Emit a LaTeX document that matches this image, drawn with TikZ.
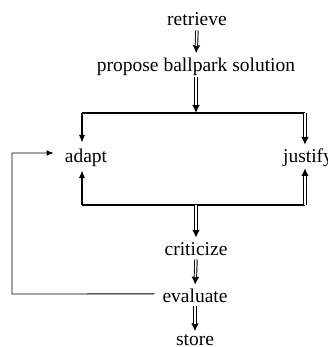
\documentclass[tikz,border=0pt]{standalone}
\usepackage{fontspec}
\setmainfont{Liberation Serif}
\usetikzlibrary{arrows.meta,calc}
\begin{document}
\begin{tikzpicture}[x=1bp,y=1bp,
  lbl/.style={anchor=base,inner sep=0pt,text height=13.5bp,text depth=4.3bp,font=\fontsize{19.5bp}{23bp}\selectfont},
  dbl/.style={draw,line width=3.4bp,-{Latex[length=8bp,width=8bp]},shorten >=#1,
    postaction={draw=white,line width=1.5bp,-{},shorten >=#1+7.5bp}},
  dbl/.default=0bp,
  sgl/.style={draw,line width=1.8bp,-{Latex[length=8bp,width=6.5bp]}},
  bar/.style={draw,line width=1.3bp},
  thinline/.style={draw,line width=0.9bp,-{Latex[length=7bp,width=5.5bp]}}]
\useasboundingbox (0,0) rectangle (328,347);
\node[lbl] (retrieve) at (197,322) {retrieve};
\node[lbl] (propose) at (196,276) {propose ballpark solution};
\node[lbl] (adapt) at (86,185) {adapt};
\node[lbl] (justify) at (308,185) {justify};
\node[lbl] (criticize) at (196,92) {criticize};
\node[lbl] (evaluate) at (195,45) {evaluate};
\node[lbl] (store) at (195,2) {store};
\coordinate (tl) at (82,234);
\coordinate (tr) at (305,234);
\coordinate (bl) at (82,142);
\coordinate (br) at (305,142);
\coordinate (fb) at (12,53);
% vertical chain
\draw[dbl=4bp,shorten <=1bp] (retrieve.south) -- (propose.north);
\draw[dbl,shorten <=1.5bp] (propose.south) -- (propose.south |- tl);
\draw[bar] (tl) -- (tr);
\draw[sgl,shorten >=5.5bp] (tl) -- (tl |- adapt.north);
\draw[dbl=3.5bp] (tr) -- (tr |- justify.north);
\draw[bar] (bl) -- (br);
\draw[sgl,shorten >=3.7bp] (bl) -- (bl |- adapt.south);
\draw[dbl=1.7bp] (br) -- (br |- justify.south);
\draw[dbl=3.5bp] (criticize.north |- bl) -- (criticize.north);
\draw[dbl=3.5bp] (criticize.south) -- (evaluate.north);
\draw[dbl] (evaluate.south) -- (store.north);
% feedback loop
\draw[thinline,shorten <=8bp,shorten >=11bp] ([yshift=3.5bp]evaluate.west) -- (fb) |- ([yshift=4.4bp]adapt.west);
\end{tikzpicture}
\end{document}
